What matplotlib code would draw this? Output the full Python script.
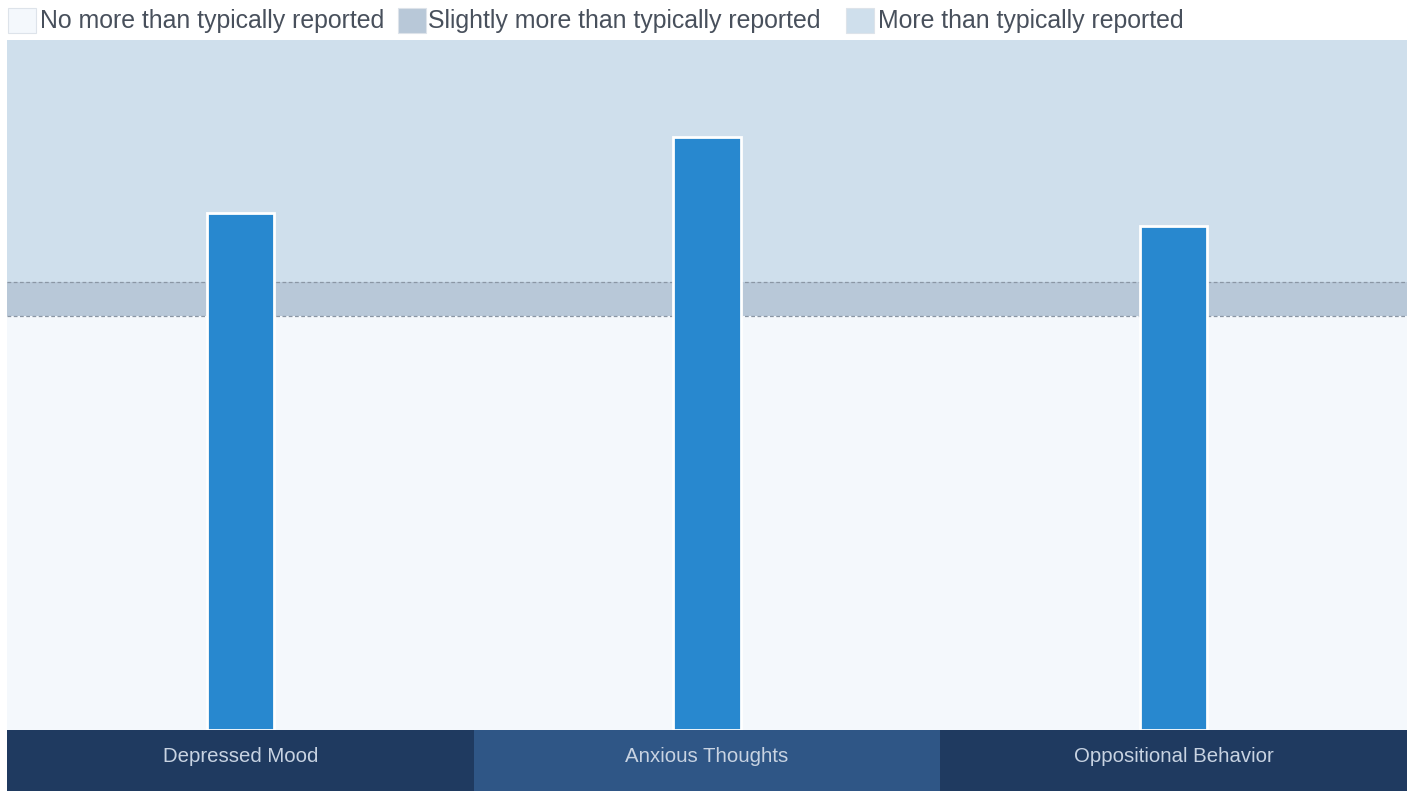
import matplotlib.pyplot as plt
from matplotlib.patches import Rectangle

# scores per scale, and the cut-offs for the shaded ranges
categories = ["Depressed Mood", "Anxious Thoughts", "Oppositional Behavior"]
scores = [75, 86, 73]
slight_low = 60
slight_high = 65
y_max = 100

band_labels = ["No more than typically reported",
               "Slightly more than typically reported",
               "More than typically reported"]
band_colors = ["#f4f8fc", "#b8c8d8", "#cfdfec"]
cat_colors = ["#1f3a60", "#2f5686", "#1f3a60"]

W, H = 1413, 791
fig = plt.figure(figsize=(W / 100, H / 100), dpi=100)
fig.patch.set_facecolor("white")

ax = fig.add_axes([7 / W, 61 / H, 1400 / W, 690 / H])
ax.set_xlim(-0.5, len(categories) - 0.5)
ax.set_ylim(0, y_max)

# background ranges
ax.axhspan(0, slight_low, color=band_colors[0], zorder=0, lw=0)
ax.axhspan(slight_low, slight_high, color=band_colors[1], zorder=0, lw=0)
ax.axhspan(slight_high, y_max, color=band_colors[2], zorder=0, lw=0)
for yv in (slight_low, slight_high):
    ax.axhline(yv, color="#8a96a4", lw=0.9, ls=(0, (3, 2)), zorder=1)

ax.bar(range(len(categories)), scores, width=0.145, color="#2888cf",
       edgecolor="white", linewidth=2, zorder=2)

for s in ax.spines.values():
    s.set_visible(False)
ax.set_xticks([])
ax.set_yticks([])

# category strip under the plot
cax = fig.add_axes([7 / W, 0, 1400 / W, 61 / H])
cax.set_xlim(-0.5, len(categories) - 0.5)
cax.set_ylim(0, 1)
for i, (name, c) in enumerate(zip(categories, cat_colors)):
    cax.axvspan(i - 0.5, i + 0.5, color=c, lw=0)
    cax.text(i, 0.57, name, ha="center", va="center", color="#c8d3e2",
             fontsize=14.7, family="Liberation Sans")
cax.set_axis_off()

# legend row above the plot (pixel positions of swatch and label)
legend_x = [(8, 40), (398, 428), (846, 878)]
for (bx, tx), lab, c in zip(legend_x, band_labels, band_colors):
    fig.add_artist(Rectangle((bx / W, 1 - 33 / H), 28 / W, 25 / H,
                             transform=fig.transFigure, facecolor=c,
                             edgecolor="#dde3ea", linewidth=0.8))
    fig.text(tx / W, 1 - 21 / H, lab, ha="left", va="center",
             color="#48505c", fontsize=17.9, family="Liberation Sans")

fig.savefig("out.png", dpi=100, facecolor="white")
